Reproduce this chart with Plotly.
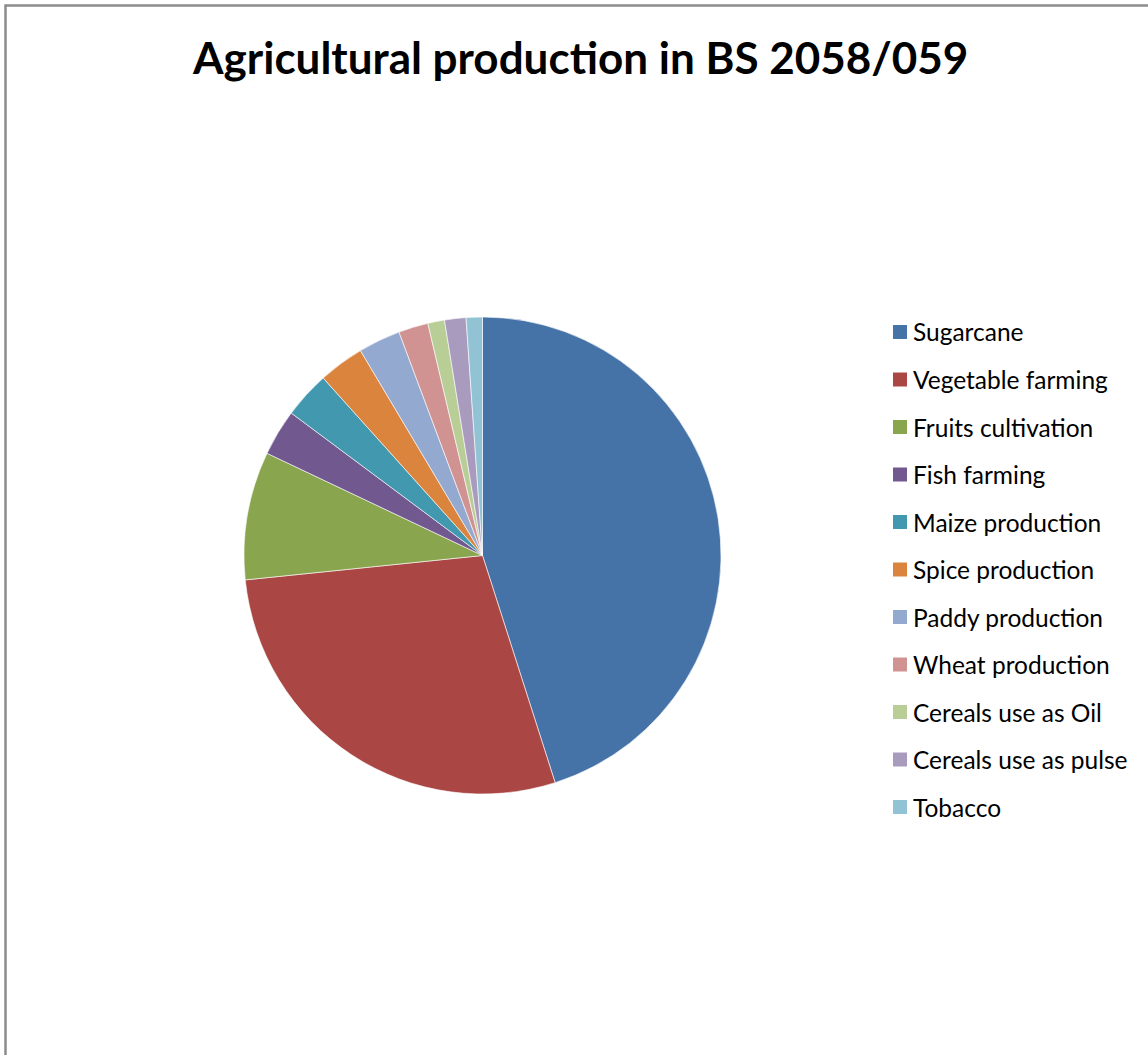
import plotly.graph_objects as go

# Share of agricultural production, BS 2058/059 (percent)
labels = [
    "Sugarcane", "Vegetable farming", "Fruits cultivation", "Fish farming",
    "Maize production", "Spice production", "Paddy production",
    "Wheat production", "Cereals use as Oil", "Cereals use as pulse", "Tobacco",
]
values = [45.07, 28.29, 8.68, 3.14, 3.17, 3.09, 2.86, 2.01, 1.13, 1.45, 1.10]
colors = [
    "#4572A7", "#AA4643", "#89A54E", "#71588F", "#4198AF", "#DB843D",
    "#93A9CF", "#D19392", "#B9CD96", "#A99BBD", "#92C3D5",
]

W, H = 1148, 1055

fig = go.Figure(go.Pie(
    labels=labels,
    values=values,
    sort=False,
    direction="clockwise",
    rotation=0,
    textinfo="none",
    hoverinfo="label+percent",
    marker=dict(colors=colors, line=dict(color="white", width=0.6)),
    domain=dict(x=[244 / W, 721 / W], y=[1 - 794 / H, 1 - 317 / H]),
    showlegend=False,
))

# Hand-built legend: colour square plus label, one row per slice
shapes = []
annotations = []
row0, gap = 332, 47.5
for i, (lab, col) in enumerate(zip(labels, colors)):
    yc = row0 + i * gap
    shapes.append(dict(
        type="rect", xref="paper", yref="paper",
        x0=893 / W, x1=907 / W, y0=1 - (yc + 7) / H, y1=1 - (yc - 7) / H,
        fillcolor=col, line=dict(width=0),
    ))
    annotations.append(dict(
        text=lab, xref="paper", yref="paper", x=911 / W, y=1 - yc / H,
        xanchor="left", yanchor="middle", showarrow=False,
        font=dict(family="Lato", size=24.5, color="#000000"),
    ))

# Chart frame (runs off the right and bottom edges)
shapes.append(dict(
    type="rect", xref="paper", yref="paper",
    x0=5.5 / W, x1=1.05, y0=-0.05, y1=1 - 5.5 / H,
    line=dict(color="#8c8c8c", width=2.5), fillcolor="rgba(0,0,0,0)",
    layer="below",
))

annotations.append(dict(
    text="<b>Agricultural production in BS 2058/059</b>",
    xref="paper", yref="paper", x=580 / W, y=1 - 57 / H,
    xanchor="center", yanchor="middle", showarrow=False,
    font=dict(family="Lato", size=44, color="#000000"),
))

fig.update_layout(
    width=W, height=H,
    margin=dict(l=0, r=0, t=0, b=0),
    paper_bgcolor="white", plot_bgcolor="white",
    shapes=shapes, annotations=annotations,
)

fig.write_html("out.html")
